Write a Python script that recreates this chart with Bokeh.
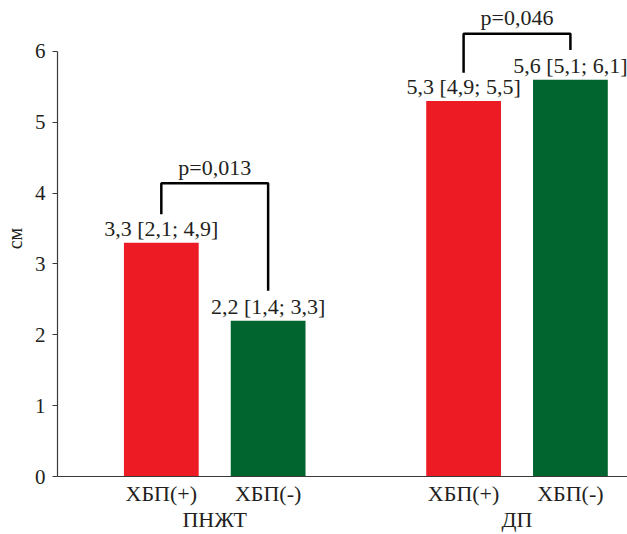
from bokeh.plotting import figure
from bokeh.models import FixedTicker, Range1d, ColumnDataSource
from bokeh.core.properties import value
from bokeh.embed import file_html
from bokeh.resources import INLINE

# ---- data ----
groups = ["ПНЖТ", "ДП"]
subgroups = ["ХБП(+)", "ХБП(-)"]
medians = [3.3, 2.2, 5.3, 5.6]
value_labels = ["3,3 [2,1; 4,9]", "2,2 [1,4; 3,3]", "5,3 [4,9; 5,5]", "5,6 [5,1; 6,1]"]
p_values = ["p=0,013", "p=0,046"]
bracket_levels = [4.14, 6.25]
y_ticks = [0, 1, 2, 3, 4, 5, 6]

colors = ["#ED1C24", "#00652E"]
FONT = "Liberation Serif"
TXT = "#231f20"

# ---- positions derived from indices ----
group_gap = 0.83
xs, bar_colors, sub_names = [], [], []
for gi, g in enumerate(groups):
    for si, s in enumerate(subgroups):
        xs.append(float(gi * (len(subgroups) + group_gap) + si))
        bar_colors.append(colors[si])
        sub_names.append(s)
group_centers = [sum(xs[gi * 2:gi * 2 + 2]) / 2 for gi in range(len(groups))]

W, H = 627, 534
BL, BB = 56, 57
FW, FH = W - BL, H - BB
px_per_x = 107.0
py_per_y = 71.0
x_start = -104 / px_per_x
x_end = x_start + FW / px_per_x
y_end = FH / py_per_y

p = figure(width=W, height=H, output_backend="svg", toolbar_location=None,
           x_range=Range1d(x_start, x_end), y_range=Range1d(0, y_end),
           min_border_left=BL, min_border_right=0, min_border_top=0, min_border_bottom=BB)
p.outline_line_color = None
p.grid.visible = False
p.background_fill_color = "white"
p.border_fill_color = "white"

src = ColumnDataSource(dict(x=xs, top=medians, color=bar_colors, lab=value_labels))
p.vbar(x="x", top="top", width=0.70, bottom=0, color="color", line_color=None, source=src)

p.text(x="x", y="top", text="lab", source=src, text_align="center",
       text_baseline="alphabetic", y_offset=-14, text_font=value(FONT),
       text_font_size="22px", text_color=TXT)

# significance brackets
bx, by, px_, py_ = [], [], [], []
for gi in range(len(groups)):
    x0, x1 = xs[gi * 2], xs[gi * 2 + 1]
    v0, v1 = medians[gi * 2], medians[gi * 2 + 1]
    top = bracket_levels[gi]
    bx.append([x0, x0, x1, x1])
    by.append([v0 + 0.40, top, top, v1 + 0.42])
    px_.append((x0 + x1) / 2)
    py_.append(top)
p.multi_line(xs=bx, ys=by, line_color="black", line_width=2.5)
p.text(x=px_, y=py_, text=p_values, text_align="center", text_baseline="alphabetic",
       y_offset=-16, text_font=value(FONT), text_font_size="22px", text_color=TXT)

# y axis
ya = p.yaxis[0]
ya.ticker = FixedTicker(ticks=y_ticks)
ya.bounds = (0, 6)
ya.axis_label = "см"
ya.axis_label_text_font = FONT
ya.axis_label_text_font_size = "20px"
ya.axis_label_text_font_style = "normal"
ya.axis_label_text_color = TXT
ya.axis_label_standoff = 6
ya.major_label_text_font = FONT
ya.major_label_text_font_size = "21px"
ya.major_label_text_color = TXT
ya.major_label_standoff = 7
ya.major_tick_out = 5
ya.major_tick_in = 0
ya.minor_tick_line_color = None
ya.axis_line_color = "#3a3a3a"
ya.major_tick_line_color = "#3a3a3a"
ya.axis_line_width = 1.2

# x axis: sub labels on the bars, group names on a second line at group centres
xa = p.xaxis[0]
xa.ticker = FixedTicker(ticks=xs + group_centers)
overrides = {x: s for x, s in zip(xs, sub_names)}
overrides.update({c: "\n" + g for c, g in zip(group_centers, groups)})
xa.major_label_overrides = overrides
xa.major_label_text_font = FONT
xa.major_label_text_font_size = "22px"
xa.major_label_text_color = TXT
xa.major_label_text_line_height = 1.05
xa.major_label_standoff = 4
xa.major_tick_line_color = None
xa.major_tick_out = 0
xa.major_tick_in = 0
xa.minor_tick_line_color = None
xa.axis_line_color = "#3a3a3a"
xa.axis_line_width = 1.2

open("out.html", "w").write(file_html(p, INLINE))
